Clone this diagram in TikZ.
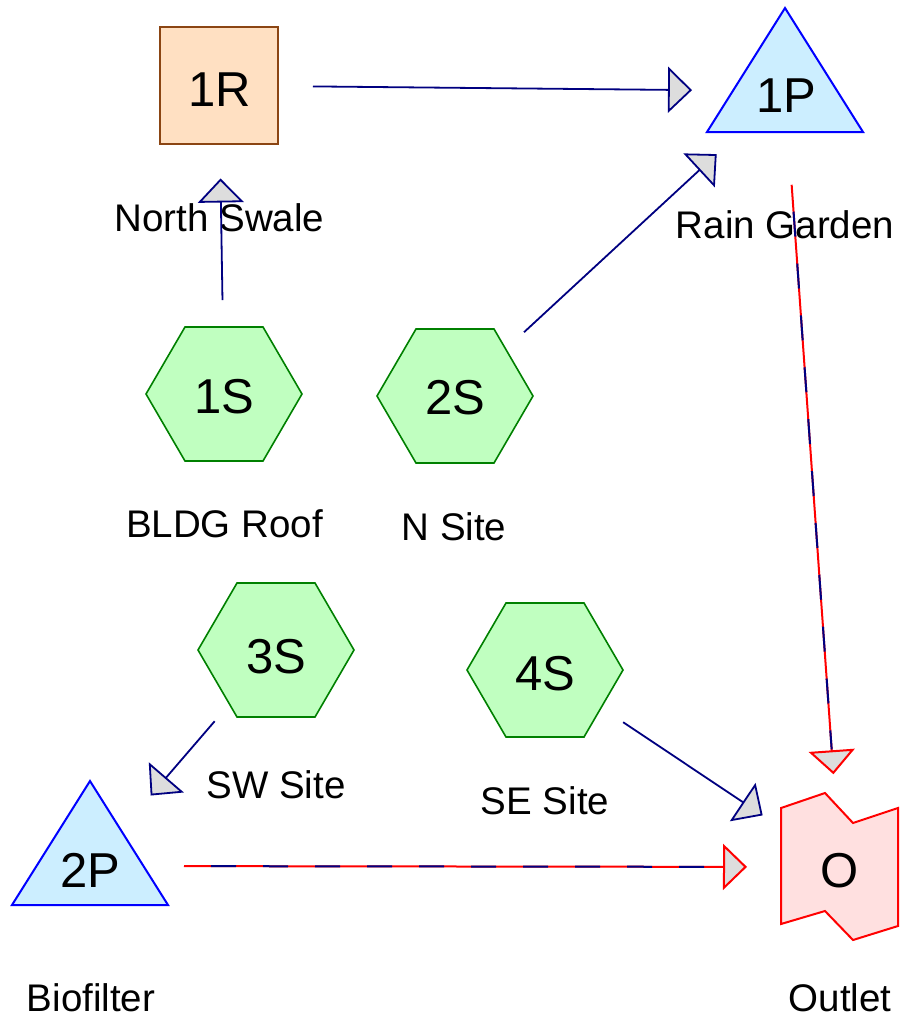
\documentclass[tikz,border=0pt]{standalone}
\usepackage{fontspec}
\setmainfont{Liberation Sans}
\usetikzlibrary{arrows.meta}
\definecolor{flowc}{HTML}{000080}
\definecolor{arrowfill}{HTML}{DDDDDD}
\definecolor{reachfill}{HTML}{FFE0C2}
\definecolor{reachdraw}{HTML}{8B4513}
\definecolor{pondfill}{HTML}{CCEEFF}
\definecolor{ponddraw}{HTML}{0000FF}
\definecolor{subfill}{HTML}{C0FFC0}
\definecolor{subdraw}{HTML}{008000}
\definecolor{linkfill}{HTML}{FFE0E0}
\definecolor{linkdraw}{HTML}{FF0000}
\begin{document}
\begin{tikzpicture}[x=1pt,y=-1pt,
  idtext/.style={font=\fontsize{49}{49}\selectfont, anchor=base, inner sep=0pt},
  nametext/.style={font=\fontsize{38.5}{40}\selectfont, anchor=base, inner sep=0pt},
  reach/.style={draw=reachdraw, fill=reachfill, line width=2pt},
  pond/.style={draw=ponddraw, fill=pondfill, line width=2pt},
  subcat/.style={draw=subdraw, fill=subfill, line width=1.6pt},
  outlink/.style={draw=linkdraw, fill=linkfill, line width=2pt},
  tipc/.style={-{Triangle[length=24pt,width=46pt,fill=arrowfill]}},
  flow/.style={draw=flowc, line width=1.8pt, shorten <=94pt, shorten >=93pt, tipc},
  hydroflow/.style={draw=linkdraw, line width=2pt, shorten <=94pt, shorten >=93pt, tipc},
  hydrodash/.style={draw=flowc, line width=2pt, shorten <=94pt, shorten >=118pt, dash pattern=on 25pt off 27pt, dash phase=25pt}
]
\useasboundingbox (0,0) rectangle (909,1021);
% centres
\coordinate (R1) at (219,85.5);
\coordinate (P1) at (785,91);
\coordinate (P2) at (90,866);
\coordinate (S1) at (224,394);
\coordinate (S2) at (455,396);
\coordinate (S3) at (276,650);
\coordinate (S4) at (545,670);
\coordinate (OL) at (840,867);
% shapes
\draw[reach] (160,27) rectangle (278,144);
\draw[pond, shift={(P1)}] (0,-83) -- (78,41) -- (-78,41) -- cycle;
\draw[pond, shift={(P2)}] (0,-85) -- (78,39) -- (-78,39) -- cycle;
\foreach \c in {S1,S2,S3,S4}{
  \draw[subcat, shift={(\c)}] (-78,0) -- (-39,-67) -- (39,-67) -- (78,0) -- (39,67) -- (-39,67) -- cycle;
}
\draw[outlink] (781,808) -- (825,793) -- (853,823) -- (898,808) -- (898,926) -- (853,940) -- (825,911) -- (781,924) -- cycle;
% id labels
\node[idtext] (t1R) at (220,106) {1R};
\node[idtext] (t1P) at (786,112) {1P};
\node[idtext] (t2P) at (90,887) {2P};
\node[idtext] (t1S) at (224,413) {1S};
\node[idtext] (t2S) at (455,414) {2S};
\node[idtext] (t3S) at (276,673) {3S};
\node[idtext] (t4S) at (545,690) {4S};
\node[idtext] (tO) at (840,887) {O};
% names
\node[nametext] (n1R) at (219.5,231) {North Swale};
\node[nametext] (n1P) at (785,238) {Rain Garden};
\node[nametext] (n1S) at (224.5,537) {BLDG Roof};
\node[nametext] (n2S) at (454,540) {N Site};
\node[nametext] (n3S) at (276,798) {SW Site};
\node[nametext] (n4S) at (545,814) {SE Site};
\node[nametext] (n2P) at (91,1011) {Biofilter};
\node[nametext] (nO) at (840,1011) {Outlet};
% connectors
\draw[flow] (R1) -- (P1);
\draw[flow] (S1) -- (R1);
\draw[flow] (S2) -- (P1);
\draw[flow] (S3) -- (P2);
\draw[flow] (S4) -- (OL);
\draw[hydroflow] (P1) -- (OL);
\draw[hydrodash] (P1) -- (OL);
\draw[hydroflow] (P2) -- (OL);
\draw[hydrodash] (P2) -- (OL);
\end{tikzpicture}
\end{document}
